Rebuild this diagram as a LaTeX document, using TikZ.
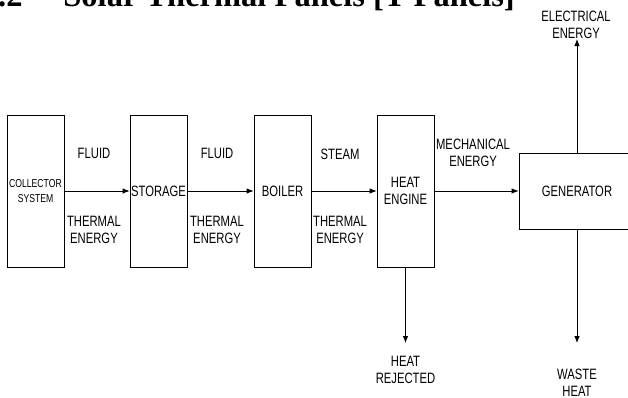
\documentclass[tikz,border=0pt]{standalone}
\usepackage{fontspec}
\setmainfont{Liberation Sans}[FakeStretch=0.75]
\newfontfamily\titlefont{Liberation Serif}
\usetikzlibrary{arrows.meta}
\begin{document}
\begin{tikzpicture}[x=1pt, y=-1pt, line width=0.8pt, >={Latex[length=7pt,width=5.5pt]},
	box/.style={
		draw,
		align=center,
		inner sep=0pt,
		minimum width=57pt,
		minimum height=152pt,
		font=\fontsize{15}{16.5}\selectfont
	},
	lbl/.style={
		align=center,
		inner sep=0pt,
		font=\fontsize{15}{16.5}\selectfont
	}
	]
	\useasboundingbox (0,0) rectangle (628,397);
	\clip (0,0) rectangle (628,397);
	
	%Titel
	\node[anchor=base east, inner sep=0pt] (num) at (23,6) {\titlefont\bfseries\fontsize{32.5}{36}\selectfont 2.2};
	\node[anchor=base west, inner sep=0pt] (ttl) at (63,6) {\titlefont\bfseries\fontsize{32.5}{36}\selectfont Solar Thermal Panels [T Panels]};
	
	%Boxen
	\node[box, font=\fontsize{11.5}{15}\selectfont] (coll) at (35.5,191) {COLLECTOR\\SYSTEM};
	\node[box] (stor) at (158.5,191) {STORAGE};
	\node[box] (boil) at (282.5,191) {BOILER};
	\node[box] (eng)  at (405.5,191) {HEAT\\ENGINE};
	\node[box, minimum width=116pt, minimum height=76pt] (gen) at (577,191) {GENERATOR};
	
	\coordinate (up)    at (577,39);
	\coordinate (rej)   at (405.5,343);
	\coordinate (waste) at (577,343);
	
	\draw[->] (coll.east) -- (stor.west);
	\draw[->] (stor.east) -- (boil.west);
	\draw[->] (boil.east) -- (eng.west);
	\draw[->] (eng.east) -- (gen.west);
	\draw[->] (gen.north) -- (up);
	\draw[->] (eng.south) -- (rej);
	\draw[->] (gen.south) -- (waste);
	
	%Beschriftung
	\node[lbl] (fl1) at (94,153) {FLUID};
	\node[lbl] (th1) at (94,230) {THERMAL\\ENERGY};
	\node[lbl] (fl2) at (217,153) {FLUID};
	\node[lbl] (th2) at (217,230) {THERMAL\\ENERGY};
	\node[lbl] (stm) at (340,154) {STEAM};
	\node[lbl] (th3) at (340,230) {THERMAL\\ENERGY};
	\node[lbl] (mech) at (473,153) {MECHANICAL\\ENERGY};
	\node[lbl] (elec) at (576,25) {ELECTRICAL\\ENERGY};
	\node[lbl] (hrej) at (405.5,370) {HEAT\\REJECTED};
	\node[lbl] (wst) at (577,383) {WASTE\\HEAT};
\end{tikzpicture}
\end{document}
